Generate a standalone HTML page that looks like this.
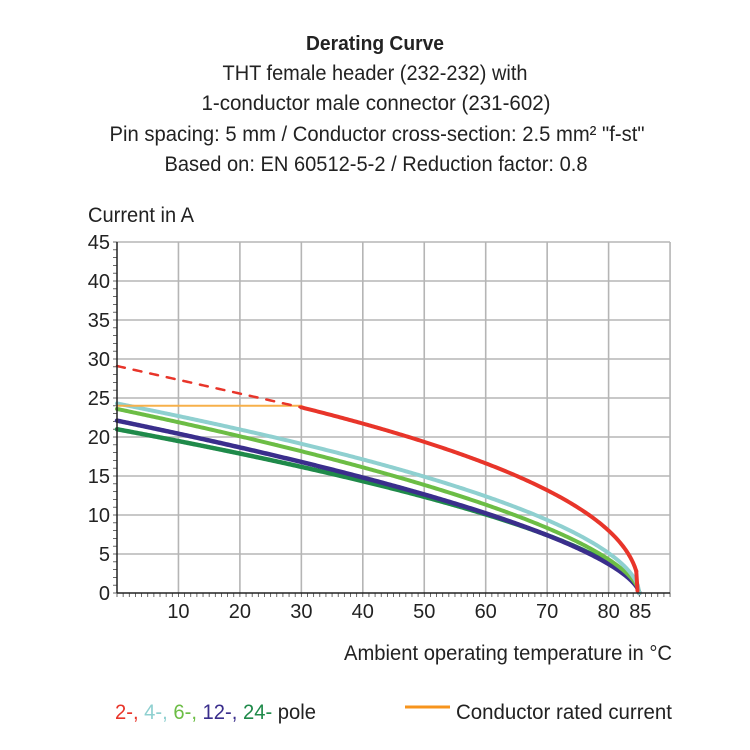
<!DOCTYPE html>
<html><head><meta charset="utf-8"><style>
html,body{margin:0;padding:0;background:#fff;}
svg{display:block;}
text{font-family:"Liberation Sans Narrow","Liberation Sans",sans-serif;fill:#222;}
</style></head><body>
<svg id="s" width="750" height="750" viewBox="0 0 750 750" xmlns="http://www.w3.org/2000/svg">
<text x="375" y="50" text-anchor="middle" font-size="20" font-weight="bold" textLength="138" lengthAdjust="spacingAndGlyphs">Derating Curve</text>
<text x="375" y="80" text-anchor="middle" font-size="21" textLength="305" lengthAdjust="spacingAndGlyphs">THT female header (232-232) with</text>
<text x="376" y="110" text-anchor="middle" font-size="21" textLength="349" lengthAdjust="spacingAndGlyphs">1-conductor male connector (231-602)</text>
<text x="377" y="141" text-anchor="middle" font-size="21" textLength="535" lengthAdjust="spacingAndGlyphs">Pin spacing: 5 mm / Conductor cross-section: 2.5 mm² "f-st"</text>
<text x="376" y="171" text-anchor="middle" font-size="21" textLength="423" lengthAdjust="spacingAndGlyphs">Based on: EN 60512-5-2 / Reduction factor: 0.8</text>
<text x="88" y="222" font-size="21" textLength="106" lengthAdjust="spacingAndGlyphs">Current in A</text>
<g id="grid" stroke="#b5b5b5" stroke-width="1.6" fill="none"></g>
<g id="ticks" stroke="#444" stroke-width="0.8"></g>
<g id="lab" font-size="20"></g>
<g id="curves" fill="none" stroke-linecap="round" stroke-linejoin="round"></g>
<line x1="117" y1="593" x2="670" y2="593" stroke="#222" stroke-width="1.5"/>
<line x1="117" y1="242" x2="117" y2="593" stroke="#222" stroke-width="1.5"/>
<text x="672" y="660" text-anchor="end" font-size="21" textLength="328" lengthAdjust="spacingAndGlyphs">Ambient operating temperature in °C</text>
<text x="115" y="719" font-size="21" textLength="201" lengthAdjust="spacingAndGlyphs"><tspan fill="#e8352a" style="fill:#e8352a">2-, </tspan><tspan style="fill:#8fd0d0">4-, </tspan><tspan style="fill:#6cbd45">6-, </tspan><tspan style="fill:#3a2e8c">12-, </tspan><tspan style="fill:#1f8a4a">24-</tspan> pole</text>
<line x1="405" y1="707" x2="450" y2="707" stroke="#f7941d" stroke-width="3"/>
<text x="456" y="719" font-size="21" textLength="216" lengthAdjust="spacingAndGlyphs">Conductor rated current</text>
</svg>
<script>
var NS="http://www.w3.org/2000/svg";
function X(t){return 117+t*6.145;}
function Y(v){return 593-v*7.8;}
function el(p,tag,a,txt){var e=document.createElementNS(NS,tag);for(var k in a)e.setAttribute(k,a[k]);if(txt!==undefined)e.textContent=txt;document.getElementById(p).appendChild(e);return e;}
for(var t=10;t<=90;t+=10)el('grid','line',{x1:X(t),y1:Y(45),x2:X(t),y2:593});
for(var v=5;v<=45;v+=5)el('grid','line',{x1:117,y1:Y(v),x2:670,y2:Y(v)});
for(var v=0;v<=45;v++)el('ticks','line',{x1:113,y1:Y(v),x2:117,y2:Y(v)});
for(var t=0;t<=90;t++)el('ticks','line',{x1:X(t),y1:593,x2:X(t),y2:597});
for(var v=0;v<=45;v+=5)el('lab','text',{x:110,y:Y(v)+7,'text-anchor':'end'},String(v));
[10,20,30,40,50,60,70,80].forEach(function(t){el('lab','text',{x:X(t),y:618,'text-anchor':'middle'},String(t));});
el('lab','text',{x:X(85)+1,y:618,'text-anchor':'middle'},'85');
function curve(f,t0,t1,col,w,extra){var d='';for(var t=t0;t<=t1+1e-9;t+=0.25){var v=f(t);d+=(d?'L':'M')+X(t).toFixed(2)+','+Y(v).toFixed(2);}var a={d:d,stroke:col,'stroke-width':w};for(var k in extra)a[k]=extra[k];el('curves','path',a);}
function pw(I0,b){return function(t){return I0*Math.pow(Math.max(85-t,0)/85,b);};}
curve(pw(21,0.60),0,85,'#1f8a4a',4.5);
curve(pw(22.1,0.63),0,85,'#3a2e8c',4.5);
curve(pw(23.6,0.60),0,85,'#6cbd45',4);
curve(pw(24.3,0.55),0,85,'#8fd0d0',4);
el('curves','line',{x1:X(0),y1:Y(24),x2:X(30),y2:Y(24),stroke:'#f7b04a','stroke-width':2});
curve(function(t){return 29.1-(5.3*t/30);},0,30,'#e8352a',2.5,{'stroke-dasharray':'8,9'});
curve(function(t){return 23.8*Math.pow(Math.max(85-t,0)/55,0.455);},30,84.5,'#e8352a',4);
el('curves','line',{x1:X(84.5),y1:Y(23.8*Math.pow(0.5/55,0.455)),x2:X(84.7),y2:Y(0.3),stroke:'#e8352a','stroke-width':4});
</script>
</body></html>
